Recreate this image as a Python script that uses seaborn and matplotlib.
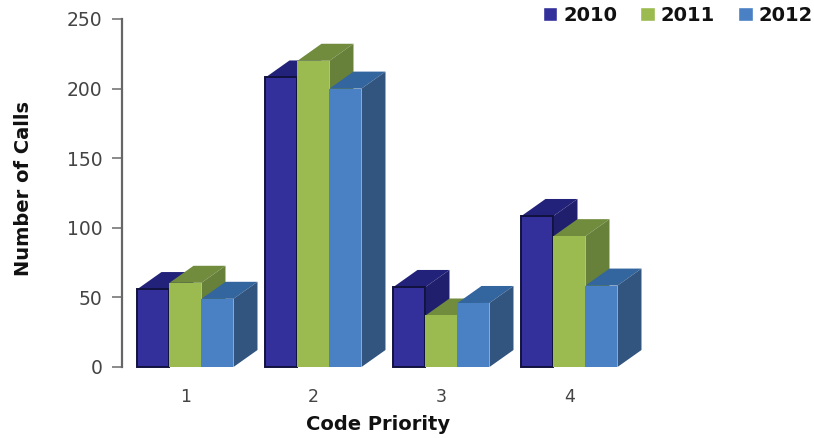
import matplotlib
matplotlib.use("Agg")
import matplotlib.pyplot as plt
from matplotlib.patches import Polygon
import pandas as pd
import seaborn as sns

priorities = ["1", "2", "3", "4"]
years = ["2010", "2011", "2012"]
calls_2010 = [56, 208, 57.5, 108.5]
calls_2011 = [60.5, 220, 37, 94]
calls_2012 = [49, 200, 46, 58.5]

front_colors = ["#33309c", "#9bba4f", "#4a80c4"]
top_colors = ["#22227a", "#728c3e", "#33659f"]
side_colors = ["#1f1f6e", "#67803a", "#32557f"]
edge_colors = ["#12123f", "none", "none"]

df = pd.DataFrame({
    "priority": priorities * 3,
    "year": [y for y in years for _ in priorities],
    "calls": calls_2010 + calls_2011 + calls_2012,
})

sns.set_theme(style="white")
W, H = 814, 438
fig = plt.figure(figsize=(W / 100, H / 100), dpi=100)
ax = fig.add_axes([122 / W, (H - 367) / H, 512 / W, 348 / H])

sns.barplot(data=df, x="priority", y="calls", hue="year", hue_order=years,
            order=priorities, palette=front_colors, saturation=1,
            width=0.75, gap=0, ax=ax)
ax.set_xlim(-0.496, 3.504)
ax.set_ylim(0, 250)

# Extrude each bar backwards to give the columns depth
depth_x = 24 / 128
depth_y = 17 * 250 / 348
for i, container in enumerate(ax.containers):
    for bar in container:
        x0, w, h = bar.get_x(), bar.get_width(), bar.get_height()
        bar.set_zorder(3 + 2 * i)
        bar.set_edgecolor(edge_colors[i])
        bar.set_linewidth(1.4 if edge_colors[i] != "none" else 0)
        bar.set_clip_on(False)
        x1 = x0 + w
        top = [(x0, h), (x1, h), (x1 + depth_x, h + depth_y), (x0 + depth_x, h + depth_y)]
        side = [(x1, 0), (x1 + depth_x, depth_y), (x1 + depth_x, h + depth_y), (x1, h)]
        ax.add_patch(Polygon(top, closed=True, fc=top_colors[i], ec="none",
                             zorder=2 + 2 * i, clip_on=False))
        ax.add_patch(Polygon(side, closed=True, fc=side_colors[i], ec="none",
                             zorder=2 + 2 * i, clip_on=False))

sns.despine(ax=ax, top=True, right=True, bottom=True)
ax.spines["left"].set_color("#666666")
ax.spines["left"].set_linewidth(1.6)
ax.set_yticks([0, 50, 100, 150, 200, 250])
ax.tick_params(axis="y", left=True, length=7, width=1.2, color="#777777",
               labelsize=13.5, labelcolor="#444444", pad=7)
ax.tick_params(axis="x", bottom=False, labelsize=12.5, labelcolor="#444444", pad=9)

ax.set_xlabel("Code Priority", fontsize=14, fontweight="bold", color="#111111")
ax.set_ylabel("Number of Calls", fontsize=14, fontweight="bold", color="#111111")
ax.xaxis.set_label_coords((378 - 122) / 512, -(415 - 367) / 348)
ax.yaxis.set_label_coords((33 - 122) / 512, (367 - 189) / 348)

handles, labels = ax.get_legend_handles_labels()
legend = ax.legend(handles, labels, ncol=3, frameon=False, loc="upper right",
                   bbox_to_anchor=(818 / W, (H - 1) / H), bbox_transform=fig.transFigure,
                   handlelength=0.75, handleheight=0.75, handletextpad=0.3,
                   columnspacing=1.2, borderaxespad=0, borderpad=0.25,
                   prop={"weight": "bold", "size": 14})
for text in legend.get_texts():
    text.set_color("#111111")

fig.savefig("out.png", dpi=100, facecolor="white")
